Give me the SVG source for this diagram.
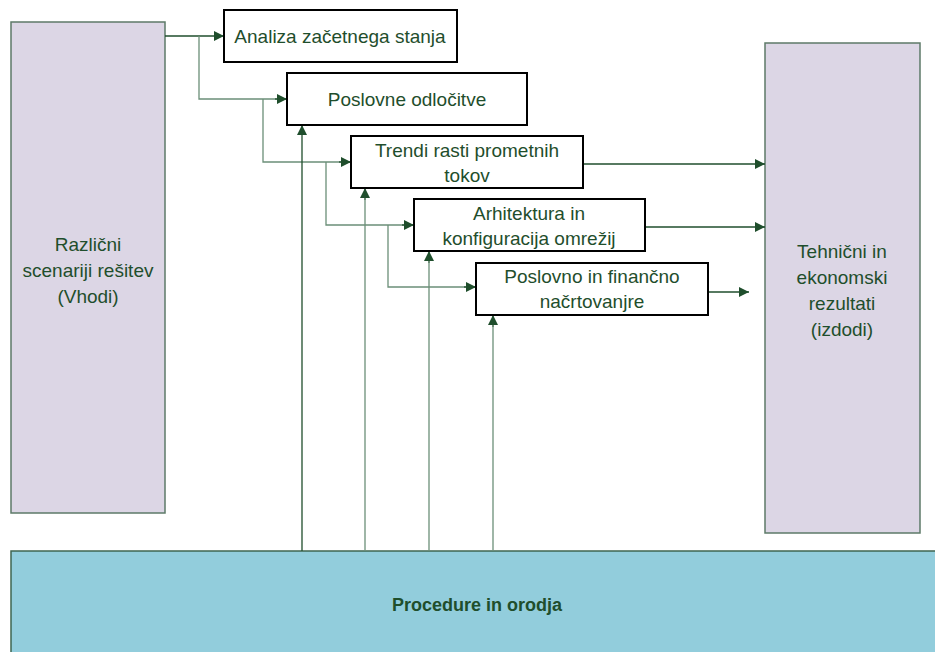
<svg xmlns="http://www.w3.org/2000/svg" width="935" height="652" viewBox="0 0 935 652">
  <style>
    .side { fill: #dcd6e5; stroke: #5d7a68; stroke-width: 1.5; }
    .base { fill: #92cddc; stroke: #3f6650; stroke-width: 1.5; }
    .step { fill: #ffffff; stroke: #000000; stroke-width: 2; }
    .lbl { font-family: "Liberation Sans", Arial, sans-serif; font-size: 19px; fill: #1f4e2c; text-anchor: middle; }
    .bold { font-weight: bold; font-size: 18px; }
    .dk { fill: none; stroke: #1f4e2c; stroke-width: 1.3; }
    .lt { fill: none; stroke: #6b8f78; stroke-width: 1.3; }
  </style>
  <defs>
    <marker id="arr" viewBox="0 0 10 10" refX="10" refY="5" markerWidth="10" markerHeight="10" markerUnits="userSpaceOnUse" orient="auto">
      <path d="M0,0 L10,5 L0,10 Z" fill="#1f4e2c"/>
    </marker>
  </defs>

  <g id="inputs">
    <rect class="side" x="11" y="22" width="154" height="491"/>
    <text class="lbl" x="88" y="251">Različni</text>
    <text class="lbl" x="88" y="277">scenariji rešitev</text>
    <text class="lbl" x="88" y="303">(Vhodi)</text>
  </g>

  <g id="outputs">
    <rect class="side" x="765" y="43" width="155" height="490"/>
    <text class="lbl" x="842" y="258">Tehnični in</text>
    <text class="lbl" x="842" y="284">ekonomski</text>
    <text class="lbl" x="842" y="310">rezultati</text>
    <text class="lbl" x="842" y="336">(izdodi)</text>
  </g>

  <g id="tools">
    <rect class="base" x="11" y="551" width="930" height="110"/>
    <text class="lbl bold" x="477" y="611">Procedure in orodja</text>
  </g>

  <g id="connectors">
    <!-- feeds from the inputs -->
    <path class="dk" d="M165,36 H224" marker-end="url(#arr)"/>
    <path class="lt" d="M199,36 V99 H287"/>
    <path class="dk" d="M275,99 H287" marker-end="url(#arr)"/>
    <path class="lt" d="M263,99 V162 H351"/>
    <path class="dk" d="M339,162 H351" marker-end="url(#arr)"/>
    <path class="lt" d="M326,162 V225 H414"/>
    <path class="dk" d="M402,225 H414" marker-end="url(#arr)"/>
    <path class="lt" d="M388,225 V287 H476"/>
    <path class="dk" d="M464,287 H476" marker-end="url(#arr)"/>
    <!-- support from procedures and tools -->
    <path class="dk" d="M302,551 V125" marker-end="url(#arr)"/>
    <path class="lt" d="M365,551 V200"/>
    <path class="dk" d="M365,200 V188" marker-end="url(#arr)"/>
    <path class="lt" d="M429,551 V263"/>
    <path class="dk" d="M429,263 V251" marker-end="url(#arr)"/>
    <path class="lt" d="M493,551 V327"/>
    <path class="dk" d="M493,327 V315" marker-end="url(#arr)"/>
    <!-- results -->
    <path class="dk" d="M583,164 H765" marker-end="url(#arr)"/>
    <path class="dk" d="M645,227 H765" marker-end="url(#arr)"/>
    <path class="dk" d="M708,292 H749" marker-end="url(#arr)"/>
  </g>

  <g id="step1">
    <rect class="step" x="224" y="10" width="233" height="52"/>
    <text class="lbl" x="340" y="43">Analiza začetnega stanja</text>
  </g>
  <g id="step2">
    <rect class="step" x="287" y="73" width="240" height="52"/>
    <text class="lbl" x="407" y="106">Poslovne odločitve</text>
  </g>
  <g id="step3">
    <rect class="step" x="351" y="136" width="232" height="52"/>
    <text class="lbl" x="467" y="157">Trendi rasti prometnih</text>
    <text class="lbl" x="467" y="182">tokov</text>
  </g>
  <g id="step4">
    <rect class="step" x="414" y="199" width="231" height="52"/>
    <text class="lbl" x="529" y="220">Arhitektura in</text>
    <text class="lbl" x="529" y="245">konfiguracija omrežij</text>
  </g>
  <g id="step5">
    <rect class="step" x="476" y="263" width="232" height="52"/>
    <text class="lbl" x="592" y="283">Poslovno in finančno</text>
    <text class="lbl" x="592" y="308">načrtovanjre</text>
  </g>
</svg>
